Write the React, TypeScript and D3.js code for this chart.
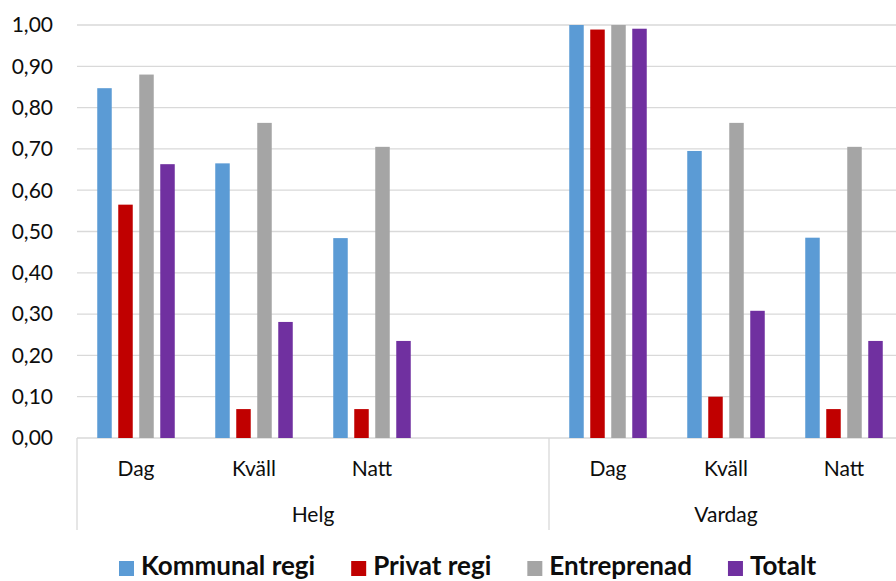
import React, { useRef, useEffect } from 'react';
import * as d3 from 'd3';

// groups with their categories (Helg has an empty fourth slot)
const groups = ['Helg', 'Vardag'];
const helgCategories = ['Dag', 'Kväll', 'Natt', ''];
const vardagCategories = ['Dag', 'Kväll', 'Natt'];

const seriesNames = ['Kommunal regi', 'Privat regi', 'Entreprenad', 'Totalt'];
const seriesColors = ['#5B9BD5', '#C00000', '#A5A5A5', '#7030A0'];

// values per category, order: Helg Dag, Kväll, Natt, (empty), Vardag Dag, Kväll, Natt
const kommunal = [0.847, 0.665, 0.484, null, 1.0, 0.695, 0.485];
const privat = [0.565, 0.07, 0.07, null, 0.989, 0.1, 0.07];
const entreprenad = [0.88, 0.763, 0.705, null, 1.0, 0.763, 0.705];
const totalt = [0.663, 0.281, 0.235, null, 0.991, 0.308, 0.235];

const yTicks = [0, 0.1, 0.2, 0.3, 0.4, 0.5, 0.6, 0.7, 0.8, 0.9, 1.0];

const W = 896;
const H = 581;
const FONT = 'Lato, "Open Sans", sans-serif';

const App: React.FC = () => {
  const ref = useRef<SVGSVGElement | null>(null);

  useEffect(() => {
    if (!ref.current) return;
    const svg = d3.select(ref.current);
    svg.selectAll('*').remove();

    const left = 77;
    const slot = 118;
    const top = 25;
    const bottom = 438;
    const axisBottom = 530;

    const keys = [
      ...helgCategories.map((c, i) => `Helg-${i}`),
      ...vardagCategories.map((c, i) => `Vardag-${i}`),
    ];
    const labels = [...helgCategories, ...vardagCategories];
    const right = left + slot * keys.length;

    const x = d3.scaleBand<string>().domain(keys).range([left, right]).padding(0);
    const xInner = d3
      .scaleBand<string>()
      .domain(seriesNames)
      .range([0, x.bandwidth()])
      .paddingInner(0.31)
      .paddingOuter(0.964);
    const y = d3.scaleLinear().domain([0, 1]).range([bottom, top]);

    // gridlines
    svg
      .append('g')
      .selectAll('line')
      .data(yTicks)
      .join('line')
      .attr('x1', left)
      .attr('x2', W)
      .attr('y1', (d) => y(d))
      .attr('y2', (d) => y(d))
      .attr('stroke', '#D9D9D9')
      .attr('stroke-width', 1.3);

    // y labels
    svg
      .append('g')
      .selectAll('text')
      .data(yTicks)
      .join('text')
      .attr('x', 53)
      .attr('y', (d) => y(d))
      .attr('dy', '0.35em')
      .attr('text-anchor', 'end')
      .attr('font-family', FONT)
      .attr('font-size', 21)
      .attr('fill', '#0d0d0d')
      .text((d) => d3.format('.2f')(d).replace('.', ','));

    // bars
    const series = [kommunal, privat, entreprenad, totalt];
    series.forEach((vals, si) => {
      svg
        .append('g')
        .selectAll('rect')
        .data(vals.map((v, i) => ({ v, k: keys[i] })).filter((d) => d.v !== null))
        .join('rect')
        .attr('x', (d) => (x(d.k) as number) + (xInner(seriesNames[si]) as number))
        .attr('width', xInner.bandwidth())
        .attr('y', (d) => y(d.v as number))
        .attr('height', (d) => bottom - y(d.v as number))
        .attr('fill', seriesColors[si]);
    });

    // category axis separators
    const seps = [left, left + slot * helgCategories.length, right];
    svg
      .append('g')
      .selectAll('line')
      .data(seps)
      .join('line')
      .attr('x1', (d) => d)
      .attr('x2', (d) => d)
      .attr('y1', bottom)
      .attr('y2', axisBottom)
      .attr('stroke', '#D9D9D9')
      .attr('stroke-width', 1.3);

    // category labels
    svg
      .append('g')
      .selectAll('text')
      .data(keys)
      .join('text')
      .attr('x', (d) => (x(d) as number) + x.bandwidth() / 2)
      .attr('y', 476)
      .attr('text-anchor', 'middle')
      .attr('font-family', FONT)
      .attr('font-size', 21)
      .attr('fill', '#0d0d0d')
      .text((d, i) => labels[i]);

    // group labels
    svg
      .append('g')
      .selectAll('text')
      .data(groups)
      .join('text')
      .attr('x', (d, i) => (seps[i] + seps[i + 1]) / 2)
      .attr('y', 522)
      .attr('text-anchor', 'middle')
      .attr('font-family', FONT)
      .attr('font-size', 21)
      .attr('fill', '#0d0d0d')
      .text((d) => d);

    // legend
    const legend = svg.append('g');
    let lx = 119;
    seriesNames.forEach((name, i) => {
      legend
        .append('rect')
        .attr('x', lx)
        .attr('y', 561)
        .attr('width', 15)
        .attr('height', 15)
        .attr('fill', seriesColors[i]);
      const t = legend
        .append('text')
        .attr('x', lx + 22)
        .attr('y', 575)
        .attr('font-family', FONT)
        .attr('font-size', 26)
        .attr('font-weight', 'bold')
        .attr('fill', '#0d0d0d')
        .text(name);
      const w = (t.node() as SVGTextElement).getComputedTextLength();
      lx = lx + 22 + w + 36;
    });
  }, []);

  return (
    <svg
      ref={ref}
      width={W}
      height={H}
      style={{ position: 'absolute', left: 0, top: 0, display: 'block', background: '#fff' }}
    />
  );
};

export default App;
